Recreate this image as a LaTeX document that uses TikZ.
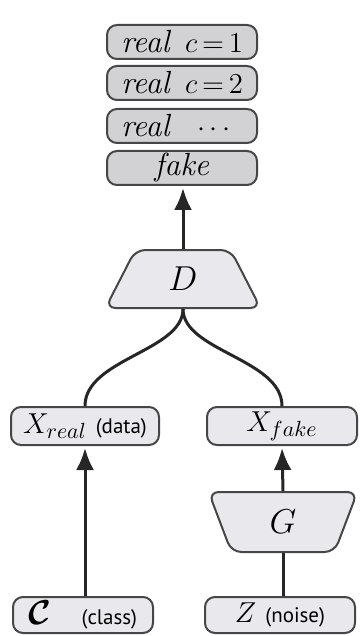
\documentclass[tikz,border=0pt]{standalone}
\usepackage{fontspec}
\usepackage{bm}
\usepackage{calc}
\newfontfamily\notefont{PT Sans}
\usetikzlibrary{shapes.geometric,arrows.meta}
\definecolor{outgray}{RGB}{210,210,212}
\definecolor{boxgray}{RGB}{233,233,237}
\definecolor{edgegray}{RGB}{70,70,70}
\begin{document}
\begin{tikzpicture}[x=0.5pt,y=-0.5pt,
  outbox/.style={draw=edgegray,fill=outgray,line width=1pt,rounded corners=5pt,
    minimum width=75pt,minimum height=17pt,inner sep=0pt,font=\fontsize{13.5}{15}\selectfont},
  varbox/.style={draw=edgegray,fill=boxgray,line width=1pt,rounded corners=5pt,
    minimum width=74pt,minimum height=19pt,inner sep=0pt,font=\fontsize{15}{17}\selectfont},
  netbox/.style={draw=edgegray,fill=boxgray,line width=1pt,rounded corners=5pt,
    trapezium,trapezium stretches=true,inner sep=0pt,font=\fontsize{18}{20}\selectfont},
  flow/.style={line width=1.5pt,draw=black!85},
  head/.style={-{Latex[length=11pt,width=9pt]},shorten >=1pt}]
\useasboundingbox (0,0) rectangle (359,636);
% outputs of D
\node[outbox] (real1) at (182,42) {{\fontsize{16}{18}\selectfont\textit{real}}\hspace{7pt}$c\,{=}\,1$};
\node[outbox] (real2) at (182,83) {{\fontsize{16}{18}\selectfont\textit{real}}\hspace{7pt}$c\,{=}\,2$};
\node[outbox] (real3) at (182,126) {{\fontsize{16}{18}\selectfont\textit{real}}\hspace{7pt}\makebox[\widthof{$c\,{=}\,2$}]{$\cdots$}};
\node[outbox] (fake) at (182,168) {\fontsize{16}{18}\selectfont\textit{fake}};
% networks
\node[netbox,trapezium angle=69,minimum width=77.5pt,minimum height=29pt] (D) at (183,279) {$D$};
\node[netbox,trapezium angle=76,shape border rotate=180,minimum width=74.5pt,minimum height=30pt] (G) at (283,522) {$G$};
% samples
\node[varbox] (xreal) at (85,426) {$X_{real}$ {\notefont\fontsize{10.5}{12}\selectfont(data)}};
\node[varbox,minimum width=75pt] (xfake) at (282,426) {$X_{fake}$};
\node[varbox,minimum width=70pt,minimum height=18pt] (class) at (83,615) {{\fontsize{17}{19}\selectfont$\bm{\mathcal{C}}$}\quad{\notefont\fontsize{10.5}{12}\selectfont(class)}};
\node[varbox,minimum width=75pt,minimum height=18pt] (noise) at (280,615) {$Z$\ {\notefont\fontsize{10.5}{12}\selectfont(noise)}};
% connections
\draw[flow,head] (D.north) -- (D.north |- fake.south);
\draw[flow] (D.south) .. controls +(0,42) and +(0,-47) .. (xreal.north);
\draw[flow] (D.south) .. controls +(0,42) and +(0,-47) .. (xfake.north);
\draw[flow,head] (xreal.south |- class.north) -- (xreal.south);
\draw[flow,head] (G.north) -- (xfake.south);
\draw[flow] (G.south |- noise.north) -- (G.south);
\end{tikzpicture}
\end{document}
